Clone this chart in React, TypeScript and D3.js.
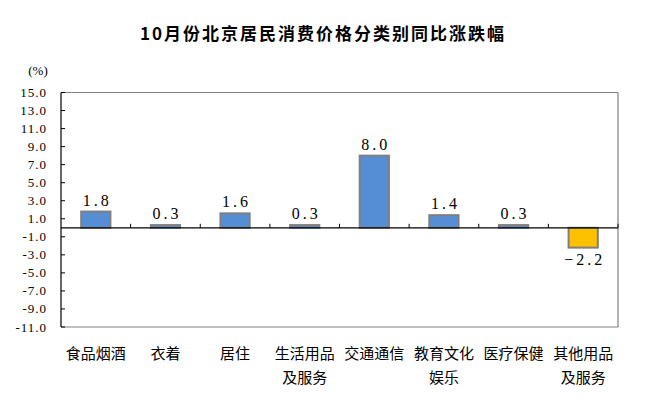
import React from "react";
import * as d3 from "d3";

const categories: string[][] = [
  ["食品烟酒"],
  ["衣着"],
  ["居住"],
  ["生活用品", "及服务"],
  ["交通通信"],
  ["教育文化", "娱乐"],
  ["医疗保健"],
  ["其他用品", "及服务"],
];
const values: number[] = [1.8, 0.3, 1.6, 0.3, 8.0, 1.4, 0.3, -2.2];
const yTicks: number[] = [15, 13, 11, 9, 7, 5, 3, 1, -1, -3, -5, -7, -9, -11];
const title = "10月份北京居民消费价格分类别同比涨跌幅";
const unitLabel = "(%)";

const W = 652;
const H = 412;
const left = 61;
const right = 618;
const top = 92.5;
const bottom = 327;

export default function App() {
  const idx = categories.map((_, i) => i);
  const x = d3
    .scaleBand<number>()
    .domain(idx)
    .range([left, right])
    .paddingInner(0.58)
    .paddingOuter(0.29);
  const xEdge = d3.scaleLinear().domain([0, categories.length]).range([left, right]);
  const y = d3.scaleLinear().domain([-11, 15]).range([bottom, top]);
  const y0 = y(0);
  const fmt = d3.format(".1f");
  const serif = "'Liberation Serif', 'DejaVu Serif', serif";
  const cjk = "'Noto Sans CJK SC', 'Noto Sans', sans-serif";

  return (
    <svg
      width={W}
      height={H}
      style={{ position: "absolute", left: 0, top: 0, background: "#fff" }}
    >
      <rect x={0} y={0} width={W} height={H} fill="#fff" />
      <text
        x={323}
        y={40}
        textAnchor="middle"
        fontFamily={cjk}
        fontSize={17}
        fontWeight="bold"
        letterSpacing={2}
        fill="#000"
      >
        {title}
      </text>
      <text x={38} y={75} textAnchor="middle" fontFamily={serif} fontSize={13} fill="#000">
        {unitLabel}
      </text>

      {/* frame */}
      <line x1={left} x2={right} y1={top} y2={top} stroke="#808080" strokeWidth={1.2} />
      <line x1={right} x2={right} y1={top} y2={bottom} stroke="#808080" strokeWidth={1.2} />
      <line x1={left} x2={right} y1={bottom} y2={bottom} stroke="#808080" strokeWidth={1.2} />

      {/* y ticks and labels */}
      {yTicks.map((t) => (
        <g key={t}>
          <line x1={left} x2={left + 4} y1={y(t)} y2={y(t)} stroke="#000" strokeWidth={1} />
          <text
            x={47}
            y={y(t) + 4.5}
            textAnchor="end"
            fontFamily={serif}
            fontSize={13}
            letterSpacing={1}
            fill="#000"
          >
            {t.toFixed(1)}
          </text>
        </g>
      ))}

      {/* bars */}
      {values.map((v, i) => (
        <rect
          key={i}
          x={x(i)!}
          y={Math.min(y(v), y0)}
          width={x.bandwidth()}
          height={Math.abs(y(v) - y0)}
          fill={v >= 0 ? "#558ED5" : "#FFC000"}
          stroke="#7F7F7F"
          strokeWidth={2}
        />
      ))}

      {/* zero line and x ticks */}
      <line x1={left} x2={right} y1={y0} y2={y0} stroke="#000" strokeWidth={1.2} />
      {idx.map((i) => (
        <line
          key={i}
          x1={xEdge(i + 1)}
          x2={xEdge(i + 1)}
          y1={y0 - 4}
          y2={y0}
          stroke="#000"
          strokeWidth={1}
        />
      ))}
      <line x1={left} x2={left} y1={top} y2={bottom} stroke="#000" strokeWidth={1.2} />

      {/* value labels */}
      {values.map((v, i) => (
        <text
          key={i}
          x={x(i)! + x.bandwidth() / 2 + 1.5}
          y={v >= 0 ? y(v) - 6 : y(v) + 17}
          textAnchor="middle"
          fontFamily={serif}
          fontSize={16}
          letterSpacing={3}
          fill="#000"
        >
          {fmt(v)}
        </text>
      ))}

      {/* category labels */}
      {categories.map((lines, i) =>
        lines.map((s, j) => (
          <text
            key={`${i}-${j}`}
            x={xEdge(i + 0.5)}
            y={359 + j * 24}
            textAnchor="middle"
            fontFamily={cjk}
            fontSize={15}
            fill="#000"
          >
            {s}
          </text>
        ))
      )}
    </svg>
  );
}
